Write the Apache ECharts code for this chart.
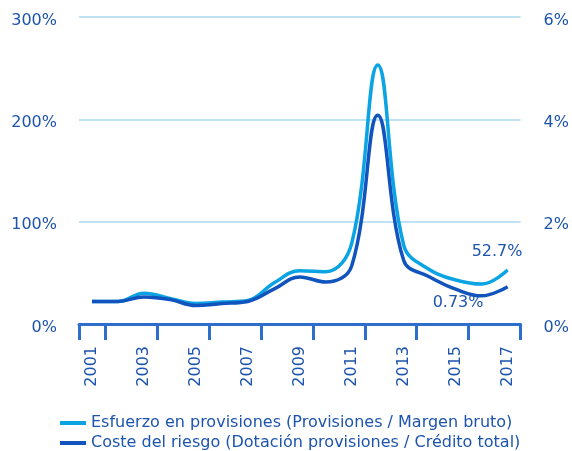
<!DOCTYPE html>
<html lang="es">
<head>
  <meta charset="UTF-8">
  <title>Esfuerzo en provisiones y coste del riesgo</title>
  <script src="https://cdn.jsdelivr.net/npm/echarts@6/dist/echarts.min.js"></script>
  <style>
    body { margin: 0; background: #fff; }
    #chart { width: 572px; height: 451px; }
  </style>
</head>
<body>
  <div id="chart"></div>
  <script>
    // datos
    const years = ['2001', '2002', '2003', '2004', '2005', '2006', '2007', '2008', '2009',
      '2010', '2011', '2012', '2013', '2014', '2015', '2016', '2017']
    // Provisiones / Margen bruto (%)
    const esfuerzo = [22, 22, 30, 25, 20, 21.5, 23, 40, 52, 51, 79, 253, 77, 53, 43, 39, 52.7]
    // Dotacion provisiones / Credito total (%)
    const coste = [0.44, 0.44, 0.53, 0.48, 0.36, 0.40, 0.44, 0.68, 0.92, 0.82, 1.14, 4.08, 1.24, 0.92, 0.68, 0.55, 0.73]
    const leftTicks = [0, 100, 200, 300]
    const rightTicks = [0, 2, 4, 6]

    const textColor = '#1d54ad'
    const axisColor = '#2f6fcc'
    const font = 'DejaVu Sans'

    // etiqueta del eje y un poco por debajo de la linea
    const yLabel = (margin) => ({
      margin: margin,
      formatter: '{a|{value}%}',
      rich: { a: { color: textColor, fontSize: 16, fontFamily: font, padding: [7, 0, 0, 0] } }
    })

    const chart = echarts.init(document.getElementById('chart'), null, { renderer: 'canvas' })
    chart.setOption({
      animation: false,
      textStyle: { fontFamily: font },
      grid: { left: 79, right: 50, top: 17, bottom: 127, containLabel: false },
      legend: {
        orient: 'vertical',
        left: 55,
        top: 409,
        height: 60,
        itemWidth: 26,
        itemHeight: 4,
        itemGap: 2,
        icon: 'rect',
        textStyle: { color: textColor, fontSize: 16, lineHeight: 18, fontFamily: font },
        data: [
          'Esfuerzo en provisiones (Provisiones / Margen bruto)',
          'Coste del riesgo (Dotación provisiones / Crédito total)'
        ]
      },
      xAxis: {
        type: 'category',
        data: years,
        boundaryGap: true,
        axisLine: { show: true, lineStyle: { color: axisColor, width: 3 } },
        axisTick: {
          show: true,
          length: 16,
          lineStyle: { color: axisColor, width: 3 },
          interval: function (i) { return i === 0 || i % 2 === 1 }
        },
        axisLabel: {
          rotate: 90,
          interval: 1,
          margin: 22,
          color: textColor,
          fontSize: 16,
          fontFamily: font
        }
      },
      yAxis: [
        {
          type: 'value',
          min: leftTicks[0],
          max: leftTicks[leftTicks.length - 1],
          interval: 100,
          axisLine: { show: false },
          axisTick: { show: false },
          axisLabel: yLabel(22),
          splitLine: { lineStyle: { color: '#bfe3f5', width: 2 } }
        },
        {
          type: 'value',
          min: rightTicks[0],
          max: rightTicks[rightTicks.length - 1],
          interval: 2,
          axisLine: { show: false },
          axisTick: { show: false },
          axisLabel: yLabel(23),
          splitLine: { show: false }
        }
      ],
      series: [
        {
          name: 'Esfuerzo en provisiones (Provisiones / Margen bruto)',
          type: 'line',
          yAxisIndex: 0,
          smooth: 0.4,
          symbol: 'none',
          color: '#0aa3e3',
          lineStyle: { width: 3.5, color: '#0aa3e3' },
          endLabel: {
            show: true,
            formatter: '52.7%',
            color: textColor,
            fontSize: 16,
            distance: 0,
            offset: [-36, -18]
          },
          data: esfuerzo
        },
        {
          name: 'Coste del riesgo (Dotación provisiones / Crédito total)',
          type: 'line',
          yAxisIndex: 1,
          smooth: 0.4,
          symbol: 'none',
          color: '#1254bd',
          lineStyle: { width: 3.5, color: '#1254bd' },
          endLabel: {
            show: true,
            formatter: '0.73%',
            color: textColor,
            fontSize: 16,
            distance: 0,
            offset: [-75, 16]
          },
          data: coste
        }
      ]
    })
  </script>
</body>
</html>
